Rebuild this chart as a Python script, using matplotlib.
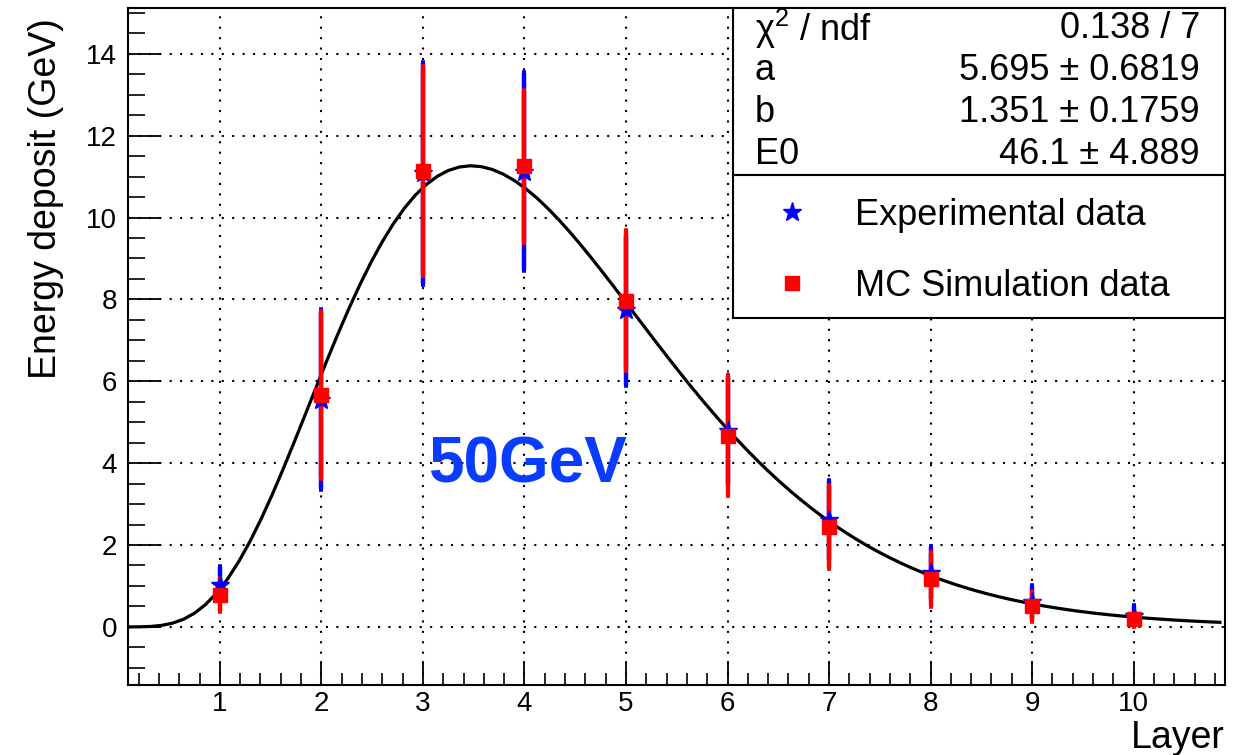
import numpy as np
import matplotlib
matplotlib.use("Agg")
import matplotlib.pyplot as plt
from matplotlib.patches import Rectangle
from math import gamma

plt.rcParams['font.family'] = ['Liberation Sans', 'DejaVu Sans']
plt.rcParams['mathtext.fontset'] = 'custom'
plt.rcParams['mathtext.rm'] = 'Liberation Sans'
plt.rcParams['mathtext.it'] = 'Liberation Sans:italic'

# ---- data ----
layers = [1, 2, 3, 4, 5, 6, 7, 8, 9, 10]
exp_val = [1.03, 5.55, 11.08, 11.12, 7.73, 4.79, 2.60, 1.31, 0.60, 0.27]
exp_err = [0.44, 2.18, 2.70, 2.40, 1.83, 1.33, 0.97, 0.63, 0.41, 0.23]
mc_val = [0.78, 5.67, 11.14, 11.25, 7.97, 4.67, 2.45, 1.16, 0.50, 0.19]
mc_err = [0.39, 2.03, 2.55, 1.85, 1.70, 1.44, 1.00, 0.64, 0.36, 0.16]

# fit parameters (gamma shower profile)
fit_a, fit_b, fit_E0 = 5.695, 1.351, 46.1
stats_labels = ["χ$^{2}$ / ndf", "a", "b", "E0"]
stats_values = ["0.138 / 7", "5.695 ± 0.6819", "1.351 ± 0.1759", "46.1 ± 4.889"]
x_ticks = [1, 2, 3, 4, 5, 6, 7, 8, 9, 10]
y_ticks = [0, 2, 4, 6, 8, 10, 12, 14]

W, H = 1255, 755
fig = plt.figure(figsize=(W / 100, H / 100), dpi=100)
L, R, T, B = 128, 1225, 8, 685
ax = fig.add_axes([L / W, 1 - B / H, (R - L) / W, (B - T) / H])

# fit curve
xc = np.linspace(0.1, 10.85, 100)
yc = fit_E0 * fit_b * (fit_b * xc) ** (fit_a - 1) * np.exp(-fit_b * xc) / gamma(fit_a)
ax.plot(xc, yc, color='black', lw=2.3, zorder=3)

# error bars
ax.errorbar(layers, exp_val, yerr=exp_err, fmt='none', ecolor='#0000ff',
            elinewidth=3.2, capsize=1.5, capthick=4, zorder=4)
ax.errorbar(layers, mc_val, yerr=mc_err, fmt='none', ecolor='#ff0000',
            elinewidth=3.2, capsize=1.5, capthick=4, zorder=5)
h_exp, = ax.plot(layers, exp_val, linestyle='none', marker='*', color='#0000ff',
                 markersize=14, zorder=6, label='Experimental data')
h_mc, = ax.plot(layers, mc_val, linestyle='none', marker='s', color='#ff0000',
                markersize=10, zorder=7, label='MC Simulation data')

ax.set_xlim(0.095, 10.9)
ax.set_ylim(-1.42, 15.12)
ax.set_xticks(x_ticks)
ax.set_xticks(np.arange(0.2, 10.9, 0.2), minor=True)
ax.set_yticks(y_ticks)
ax.set_yticks(np.arange(-1.0, 15.01, 0.5), minor=True)
ax.xaxis.set_ticks_position('bottom')
ax.yaxis.set_ticks_position('left')
ax.tick_params(axis='x', which='major', direction='in', length=17, width=1.3,
               labelsize=20, pad=4)
ax.tick_params(axis='x', which='minor', direction='in', length=9, width=1.2)
ax.tick_params(axis='y', which='major', direction='in', length=23, width=1.3,
               labelsize=20, pad=8)
ax.tick_params(axis='y', which='minor', direction='in', length=12, width=1.2)
for s in ax.spines.values():
    s.set_linewidth(1.5)

ax.grid(True, which='major', color='black', linestyle=(0, (1, 4)), lw=1.5, zorder=1)
ax.set_axisbelow(True)

ax.set_ylabel("Energy deposit (GeV)", fontsize=27)
ax.yaxis.label.set_rotation_mode('default')
ax.yaxis.set_label_coords((46 - L) / (R - L), (B - 18) / (B - T))
ax.yaxis.label.set_verticalalignment('top')
ax.yaxis.label.set_horizontalalignment('center')
ax.set_xlabel("Layer", fontsize=27)
ax.xaxis.set_label_coords(1.0, (B - 720) / (B - T))
ax.xaxis.label.set_horizontalalignment('right')
ax.xaxis.label.set_verticalalignment('top')

ax.text(3.05, 3.95, "50GeV", color='#0a3cff', fontsize=46, fontweight='bold',
        ha='left', va='center', zorder=8)

# stats box
bx0, bx1, by_top, by_mid, by_bot = 733, 1225, 8, 175, 318
fig.add_artist(Rectangle((bx0 / W, 1 - by_mid / H), (bx1 - bx0) / W, (by_mid - by_top) / H,
                         transform=fig.transFigure, facecolor='white', edgecolor='black',
                         lw=1.5, zorder=10))
fig.add_artist(Rectangle((bx0 / W, 1 - by_bot / H), (bx1 - bx0) / W, (by_bot - by_mid) / H,
                         transform=fig.transFigure, facecolor='white', edgecolor='black',
                         lw=1.5, zorder=10))
row_y = [29, 71, 113, 155]
for lab, val, yy in zip(stats_labels, stats_values, row_y):
    fig.text(755 / W, 1 - yy / H, lab, fontsize=26, ha='left', va='center', zorder=11)
    fig.text(1200 / W, 1 - yy / H, val, fontsize=26, ha='right', va='center', zorder=11)

leg = fig.legend(handles=[h_exp, h_mc], loc='center left',
                 bbox_to_anchor=(723 / W, 1 - 251 / H), frameon=False,
                 fontsize=26, numpoints=1, handlelength=2.0, handletextpad=0.75,
                 labelspacing=1.0, borderpad=0.4)
leg.set_zorder(12)

fig.savefig("out.png", dpi=100)
